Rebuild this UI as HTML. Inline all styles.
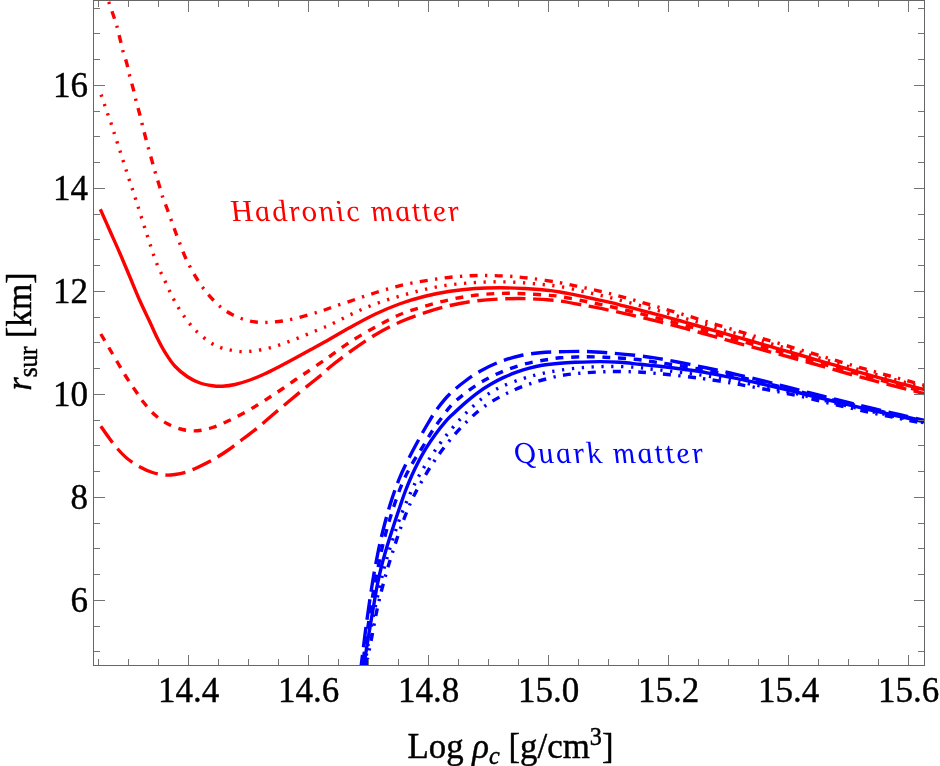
<!DOCTYPE html>
<html><head><meta charset="utf-8"><title>r_sur vs Log rho_c</title>
<style>html,body{margin:0;padding:0;background:#fff;}body{width:940px;height:766px;overflow:hidden;font-family:"Liberation Serif",serif;}svg{display:block;will-change:transform;}text{font-family:"Liberation Serif",serif;}</style>
</head><body>
<svg width="940" height="766" viewBox="0 0 940 766">
<rect x="0" y="0" width="940" height="766" fill="#ffffff"/>
<defs><clipPath id="clip"><rect x="93.5" y="0.0" width="831.0" height="665.5"/></clipPath></defs>
<g clip-path="url(#clip)" fill="none" stroke-linecap="butt" stroke-linejoin="round">
<path d="M104.60 -10.00 C105.29 -8.00 107.31 -2.17 108.75 2.00 C110.19 6.17 111.92 11.04 113.25 15.00 C114.58 18.96 115.62 21.79 116.75 25.75 C117.88 29.71 118.96 34.50 120.00 38.75 C121.04 43.00 121.88 47.17 123.00 51.25 C124.12 55.33 125.67 59.25 126.75 63.25 C127.83 67.25 128.46 71.12 129.50 75.25 C130.54 79.38 131.92 83.79 133.00 88.00 C134.08 92.21 134.96 96.42 136.00 100.50 C137.04 104.58 138.21 108.50 139.25 112.50 C140.29 116.50 141.21 120.38 142.25 124.50 C143.29 128.62 144.42 133.08 145.50 137.25 C146.58 141.42 147.62 145.42 148.75 149.50 C149.88 153.58 151.12 157.79 152.25 161.75 C153.38 165.71 154.29 169.17 155.50 173.25 C156.71 177.33 158.25 182.12 159.50 186.25 C160.75 190.38 161.67 194.08 163.00 198.00 C164.33 201.92 165.29 203.75 167.50 209.75 C169.71 215.75 173.33 226.21 176.25 234.00 C179.17 241.79 182.50 250.67 185.00 256.50 C187.50 262.33 189.17 265.12 191.25 269.00 C193.33 272.88 195.21 276.17 197.50 279.75 C199.79 283.33 202.42 287.17 205.00 290.50 C207.58 293.83 210.08 296.75 213.00 299.75 C215.92 302.75 219.25 306.00 222.50 308.50 C225.75 311.00 228.75 312.88 232.50 314.75 C236.25 316.62 240.83 318.50 245.00 319.75 C249.17 321.00 253.33 321.83 257.50 322.25 C261.67 322.67 265.83 322.46 270.00 322.25 C274.17 322.04 278.33 321.62 282.50 321.00 C286.67 320.38 290.62 319.54 295.00 318.50 C299.38 317.46 304.58 315.92 308.75 314.75 C312.92 313.58 316.46 312.62 320.00 311.50 C323.54 310.38 324.17 310.00 330.00 308.00 C335.83 306.00 346.67 302.29 355.00 299.50 C363.33 296.71 371.67 293.75 380.00 291.25 C388.33 288.75 396.67 286.38 405.00 284.50 C413.33 282.62 421.67 281.29 430.00 280.00 C438.33 278.71 446.67 277.50 455.00 276.75 C463.33 276.00 471.67 275.62 480.00 275.50 C488.33 275.38 496.67 275.54 505.00 276.00 C513.33 276.46 520.83 277.12 530.00 278.25 C539.17 279.38 550.83 281.15 560.00 282.75 C569.17 284.35 576.67 286.06 585.00 287.88 C593.33 289.70 601.67 291.55 610.00 293.65 C618.33 295.74 626.67 298.12 635.00 300.44 C643.33 302.77 651.67 305.18 660.00 307.61 C668.33 310.04 676.67 312.51 685.00 315.03 C693.33 317.54 701.67 320.18 710.00 322.71 C718.33 325.24 726.67 327.73 735.00 330.23 C743.33 332.74 751.67 335.24 760.00 337.74 C768.33 340.24 776.67 342.72 785.00 345.22 C793.33 347.71 801.67 350.20 810.00 352.70 C818.33 355.20 826.67 357.72 835.00 360.20 C843.33 362.68 851.67 365.17 860.00 367.58 C868.33 369.99 876.67 372.35 885.00 374.66 C893.33 376.97 901.67 379.23 910.00 381.47 C918.33 383.71 930.83 386.99 935.00 388.10" stroke="#ff0000" stroke-width="3.4" stroke-dasharray="2.3 7.4 8 7.4" stroke-dashoffset="12.5"/>
<path d="M101.10 94.60 C101.67 96.25 103.39 101.27 104.50 104.50 C105.61 107.73 106.67 110.92 107.75 114.00 C108.83 117.08 109.96 119.92 111.00 123.00 C112.04 126.08 113.00 129.38 114.00 132.50 C115.00 135.62 116.00 138.67 117.00 141.75 C118.00 144.83 119.00 147.92 120.00 151.00 C121.00 154.08 122.00 157.12 123.00 160.25 C124.00 163.38 125.00 166.62 126.00 169.75 C127.00 172.88 128.00 175.96 129.00 179.00 C130.00 182.04 131.00 184.96 132.00 188.00 C133.00 191.04 134.00 194.17 135.00 197.25 C136.00 200.33 136.00 200.25 138.00 206.50 C140.00 212.75 143.96 225.46 147.00 234.75 C150.04 244.04 153.25 254.54 156.25 262.25 C159.25 269.96 162.17 274.96 165.00 281.00 C167.83 287.04 170.33 293.00 173.25 298.50 C176.17 304.00 178.88 308.79 182.50 314.00 C186.12 319.21 190.42 325.04 195.00 329.75 C199.58 334.46 205.83 339.33 210.00 342.25 C214.17 345.17 216.88 346.00 220.00 347.25 C223.12 348.50 225.71 349.04 228.75 349.75 C231.79 350.46 235.12 351.21 238.25 351.50 C241.38 351.79 244.38 351.67 247.50 351.50 C250.62 351.33 253.75 351.00 257.00 350.50 C260.25 350.00 263.79 349.25 267.00 348.50 C270.21 347.75 273.17 346.96 276.25 346.00 C279.33 345.04 282.38 343.88 285.50 342.75 C288.62 341.62 291.83 340.46 295.00 339.25 C298.17 338.04 301.38 336.79 304.50 335.50 C307.62 334.21 310.75 332.75 313.75 331.50 C316.75 330.25 319.58 329.21 322.50 328.00 C325.42 326.79 326.88 326.33 331.25 324.25 C335.62 322.17 342.92 318.29 348.75 315.50 C354.58 312.71 360.21 310.00 366.25 307.50 C372.29 305.00 378.75 302.58 385.00 300.50 C391.25 298.42 397.50 296.75 403.75 295.00 C410.00 293.25 416.25 291.48 422.50 290.00 C428.75 288.52 434.79 287.17 441.25 286.10 C447.71 285.03 454.79 284.23 461.25 283.60 C467.71 282.97 473.54 282.60 480.00 282.30 C486.46 282.00 493.33 281.77 500.00 281.80 C506.67 281.83 513.33 282.08 520.00 282.50 C526.67 282.92 533.33 283.63 540.00 284.30 C546.67 284.97 552.50 285.25 560.00 286.50 C567.50 287.75 576.67 289.94 585.00 291.79 C593.33 293.63 601.67 295.50 610.00 297.57 C618.33 299.63 626.67 301.91 635.00 304.17 C643.33 306.42 651.67 308.76 660.00 311.11 C668.33 313.46 676.67 315.84 685.00 318.28 C693.33 320.72 701.67 323.28 710.00 325.75 C718.33 328.22 726.67 330.67 735.00 333.12 C743.33 335.58 751.67 338.03 760.00 340.48 C768.33 342.93 776.67 345.36 785.00 347.81 C793.33 350.25 801.67 352.71 810.00 355.18 C818.33 357.65 826.67 360.17 835.00 362.63 C843.33 365.09 851.67 367.56 860.00 369.94 C868.33 372.32 876.67 374.64 885.00 376.92 C893.33 379.20 901.67 381.43 910.00 383.64 C918.33 385.85 930.83 389.11 935.00 390.20" stroke="#ff0000" stroke-width="3.4" stroke-dasharray="2.3 7.55"/>
<path d="M100.30 209.20 C101.92 212.83 106.72 223.62 110.00 231.00 C113.28 238.38 116.67 245.79 120.00 253.50 C123.33 261.21 126.67 269.33 130.00 277.25 C133.33 285.17 136.67 293.50 140.00 301.00 C143.33 308.50 147.08 316.00 150.00 322.25 C152.92 328.50 155.00 333.50 157.50 338.50 C160.00 343.50 162.08 347.62 165.00 352.25 C167.92 356.88 171.25 362.17 175.00 366.25 C178.75 370.33 183.33 373.96 187.50 376.75 C191.67 379.54 195.83 381.50 200.00 383.00 C204.17 384.50 208.75 385.21 212.50 385.75 C216.25 386.29 218.75 386.46 222.50 386.25 C226.25 386.04 230.42 385.54 235.00 384.50 C239.58 383.46 245.00 381.79 250.00 380.00 C255.00 378.21 260.00 376.04 265.00 373.75 C270.00 371.46 275.00 368.83 280.00 366.25 C285.00 363.67 290.00 360.96 295.00 358.25 C300.00 355.54 305.00 352.75 310.00 350.00 C315.00 347.25 318.33 345.50 325.00 341.75 C331.67 338.00 341.67 332.08 350.00 327.50 C358.33 322.92 366.67 318.21 375.00 314.25 C383.33 310.29 391.67 306.75 400.00 303.75 C408.33 300.75 416.67 298.33 425.00 296.25 C433.33 294.17 441.67 292.54 450.00 291.25 C458.33 289.96 466.67 289.08 475.00 288.50 C483.33 287.92 491.67 287.75 500.00 287.75 C508.33 287.75 518.33 288.21 525.00 288.50 C531.67 288.79 535.83 289.15 540.00 289.50 C544.17 289.85 546.67 290.18 550.00 290.60 C553.33 291.02 556.20 291.37 560.00 292.00 C563.80 292.63 568.53 293.55 572.80 294.40 C577.07 295.25 581.33 296.20 585.60 297.10 C589.87 298.00 594.13 298.87 598.40 299.80 C602.67 300.73 606.95 301.68 611.20 302.70 C615.45 303.72 619.65 304.83 623.90 305.90 C628.15 306.97 632.43 308.00 636.70 309.10 C640.97 310.20 645.23 311.37 649.50 312.50 C653.77 313.63 657.05 314.48 662.30 315.90 C667.55 317.32 674.72 319.23 681.00 321.00 C687.28 322.77 693.50 324.63 700.00 326.50 C706.50 328.37 713.33 330.30 720.00 332.20 C726.67 334.10 733.33 336.00 740.00 337.90 C746.67 339.80 753.33 341.70 760.00 343.60 C766.67 345.50 773.33 347.40 780.00 349.30 C786.67 351.20 792.50 352.83 800.00 355.00 C807.50 357.17 816.67 359.87 825.00 362.30 C833.33 364.73 841.67 367.22 850.00 369.60 C858.33 371.98 866.67 374.32 875.00 376.60 C883.33 378.88 891.75 381.12 900.00 383.30 C908.25 385.48 918.67 388.18 924.50 389.70 C930.33 391.22 933.25 391.95 935.00 392.40" stroke="#ff0000" stroke-width="3.4"/>
<path d="M100.80 334.00 C102.75 337.29 108.47 346.92 112.50 353.75 C116.53 360.58 121.25 368.96 125.00 375.00 C128.75 381.04 131.88 385.42 135.00 390.00 C138.12 394.58 140.42 398.33 143.75 402.50 C147.08 406.67 151.04 411.46 155.00 415.00 C158.96 418.54 162.92 421.33 167.50 423.75 C172.08 426.17 177.50 428.33 182.50 429.50 C187.50 430.67 192.50 431.08 197.50 430.75 C202.50 430.42 207.50 429.08 212.50 427.50 C217.50 425.92 222.50 423.54 227.50 421.25 C232.50 418.96 237.50 416.46 242.50 413.75 C247.50 411.04 252.92 407.79 257.50 405.00 C262.08 402.21 265.83 399.71 270.00 397.00 C274.17 394.29 278.33 391.58 282.50 388.75 C286.67 385.92 290.83 382.83 295.00 380.00 C299.17 377.17 302.71 375.00 307.50 371.75 C312.29 368.50 320.00 363.08 323.75 360.50 C327.50 357.92 325.62 359.33 330.00 356.25 C334.38 353.17 342.50 346.83 350.00 342.00 C357.50 337.17 366.67 331.83 375.00 327.25 C383.33 322.67 391.67 318.01 400.00 314.50 C408.33 310.99 416.67 308.68 425.00 306.20 C433.33 303.72 441.67 301.42 450.00 299.60 C458.33 297.78 466.67 296.33 475.00 295.30 C483.33 294.27 491.67 293.67 500.00 293.40 C508.33 293.13 516.67 293.37 525.00 293.70 C533.33 294.03 544.17 294.93 550.00 295.40 C555.83 295.87 554.17 295.52 560.00 296.50 C565.83 297.48 576.67 299.62 585.00 301.29 C593.33 302.95 601.67 304.64 610.00 306.49 C618.33 308.34 626.67 310.35 635.00 312.38 C643.33 314.42 651.67 316.54 660.00 318.71 C668.33 320.87 676.67 323.09 685.00 325.38 C693.33 327.66 701.67 330.07 710.00 332.41 C718.33 334.75 726.67 337.10 735.00 339.43 C743.33 341.77 751.67 344.10 760.00 346.42 C768.33 348.74 776.67 351.02 785.00 353.35 C793.33 355.67 801.67 358.01 810.00 360.38 C818.33 362.75 826.67 365.20 835.00 367.58 C843.33 369.96 851.67 372.35 860.00 374.66 C868.33 376.97 876.67 379.22 885.00 381.44 C893.33 383.66 901.67 385.82 910.00 387.98 C918.33 390.14 930.83 393.33 935.00 394.40" stroke="#ff0000" stroke-width="3.4" stroke-dasharray="7.9 7.7"/>
<path d="M100.80 426.20 C102.12 428.08 105.97 433.74 108.75 437.50 C111.53 441.26 114.38 445.21 117.50 448.75 C120.62 452.29 123.75 455.71 127.50 458.75 C131.25 461.79 135.83 464.71 140.00 467.00 C144.17 469.29 148.33 471.17 152.50 472.50 C156.67 473.83 161.25 474.67 165.00 475.00 C168.75 475.33 171.46 475.00 175.00 474.50 C178.54 474.00 182.50 473.17 186.25 472.00 C190.00 470.83 193.12 469.50 197.50 467.50 C201.88 465.50 207.50 462.83 212.50 460.00 C217.50 457.17 222.50 453.96 227.50 450.50 C232.50 447.04 237.50 443.00 242.50 439.25 C247.50 435.50 252.50 432.04 257.50 428.00 C262.50 423.96 267.50 419.25 272.50 415.00 C277.50 410.75 282.50 406.67 287.50 402.50 C292.50 398.33 297.92 393.75 302.50 390.00 C307.08 386.25 311.25 383.00 315.00 380.00 C318.75 377.00 322.50 374.17 325.00 372.00 C327.50 369.83 325.83 370.38 330.00 367.00 C334.17 363.62 342.50 357.08 350.00 351.75 C357.50 346.42 366.67 339.96 375.00 335.00 C383.33 330.04 391.67 325.73 400.00 322.00 C408.33 318.27 416.67 315.35 425.00 312.60 C433.33 309.85 441.67 307.43 450.00 305.50 C458.33 303.57 466.67 302.08 475.00 301.00 C483.33 299.92 491.67 299.40 500.00 299.00 C508.33 298.60 516.67 298.43 525.00 298.60 C533.33 298.77 544.17 299.60 550.00 300.00 C555.83 300.40 554.17 300.09 560.00 301.00 C565.83 301.91 576.67 303.92 585.00 305.47 C593.33 307.03 601.67 308.61 610.00 310.35 C618.33 312.09 626.67 313.96 635.00 315.90 C643.33 317.83 651.67 319.85 660.00 321.95 C668.33 324.04 676.67 326.23 685.00 328.47 C693.33 330.70 701.67 333.07 710.00 335.37 C718.33 337.67 726.67 340.00 735.00 342.29 C743.33 344.59 751.67 346.88 760.00 349.14 C768.33 351.40 776.67 353.60 785.00 355.87 C793.33 358.13 801.67 360.42 810.00 362.76 C818.33 365.10 826.67 367.55 835.00 369.91 C843.33 372.27 851.67 374.64 860.00 376.92 C868.33 379.20 876.67 381.41 885.00 383.60 C893.33 385.79 901.67 387.92 910.00 390.06 C918.33 392.19 930.83 395.34 935.00 396.40" stroke="#ff0000" stroke-width="3.4" stroke-dasharray="20.3 7.7"/>
<path d="M359.80 675.00 C360.04 673.33 360.18 673.33 361.25 665.00 C362.32 656.67 364.38 638.75 366.25 625.00 C368.12 611.25 370.62 594.17 372.50 582.50 C374.38 570.83 375.83 563.33 377.50 555.00 C379.17 546.67 380.42 540.83 382.50 532.50 C384.58 524.17 387.29 513.75 390.00 505.00 C392.71 496.25 395.75 487.50 398.75 480.00 C401.75 472.50 404.79 466.50 408.00 460.00 C411.21 453.50 414.54 447.33 418.00 441.00 C421.46 434.67 425.50 427.42 428.75 422.00 C432.00 416.58 433.96 413.21 437.50 408.50 C441.04 403.79 445.42 398.29 450.00 393.75 C454.58 389.21 460.00 385.00 465.00 381.25 C470.00 377.50 474.17 374.50 480.00 371.25 C485.83 368.00 493.33 364.33 500.00 361.75 C506.67 359.17 513.33 357.25 520.00 355.75 C526.67 354.25 533.33 353.42 540.00 352.75 C546.67 352.08 552.50 351.96 560.00 351.75 C567.50 351.54 576.67 351.29 585.00 351.50 C593.33 351.71 601.67 352.37 610.00 353.00 C618.33 353.63 627.83 354.53 635.00 355.30 C642.17 356.07 647.17 356.72 653.00 357.60 C658.83 358.48 663.83 359.45 670.00 360.59 C676.17 361.73 683.83 363.21 690.00 364.44 C696.17 365.68 700.33 366.58 707.00 368.00 C713.67 369.42 722.83 371.36 730.00 372.97 C737.17 374.58 742.50 375.83 750.00 377.64 C757.50 379.45 766.67 381.72 775.00 383.83 C783.33 385.94 791.67 388.16 800.00 390.30 C808.33 392.44 816.67 394.60 825.00 396.70 C833.33 398.80 841.67 400.86 850.00 402.90 C858.33 404.94 866.67 406.99 875.00 408.96 C883.33 410.94 891.75 412.83 900.00 414.73 C908.25 416.63 918.67 419.04 924.50 420.39 C930.33 421.73 933.25 422.40 935.00 422.80" stroke="#0000ff" stroke-width="3.4" stroke-dasharray="20.3 7.7"/>
<path d="M361.00 675.00 C361.25 673.33 361.58 671.33 362.50 665.00 C363.42 658.67 364.92 647.83 366.50 637.00 C368.08 626.17 370.08 611.50 372.00 600.00 C373.92 588.50 376.00 578.00 378.00 568.00 C380.00 558.00 381.67 549.33 384.00 540.00 C386.33 530.67 389.00 521.33 392.00 512.00 C395.00 502.67 398.67 492.00 402.00 484.00 C405.33 476.00 408.67 470.00 412.00 464.00 C415.33 458.00 418.83 453.17 422.00 448.00 C425.17 442.83 428.00 437.67 431.00 433.00 C434.00 428.33 436.58 424.65 440.00 420.00 C443.42 415.35 447.67 409.28 451.50 405.10 C455.33 400.92 458.97 398.13 463.00 394.90 C467.03 391.67 471.35 388.57 475.70 385.70 C480.05 382.83 484.52 380.10 489.10 377.70 C493.68 375.30 498.40 373.27 503.20 371.30 C508.00 369.33 512.90 367.45 517.90 365.90 C522.90 364.35 528.10 363.08 533.20 362.00 C538.30 360.92 544.03 360.10 548.50 359.40 C552.97 358.70 553.92 358.23 560.00 357.80 C566.08 357.37 576.67 356.85 585.00 356.80 C593.33 356.75 601.67 357.10 610.00 357.50 C618.33 357.90 627.83 358.48 635.00 359.20 C642.17 359.92 647.17 360.96 653.00 361.80 C658.83 362.64 663.83 363.29 670.00 364.22 C676.17 365.16 683.83 366.38 690.00 367.41 C696.17 368.44 700.33 369.12 707.00 370.40 C713.67 371.68 722.83 373.58 730.00 375.10 C737.17 376.63 742.50 377.81 750.00 379.54 C757.50 381.27 766.67 383.45 775.00 385.48 C783.33 387.51 791.67 389.61 800.00 391.70 C808.33 393.79 816.67 395.93 825.00 398.00 C833.33 400.07 841.67 402.10 850.00 404.10 C858.33 406.10 866.67 408.10 875.00 410.02 C883.33 411.94 891.75 413.78 900.00 415.64 C908.25 417.49 918.67 419.84 924.50 421.15 C930.33 422.46 933.25 423.11 935.00 423.50" stroke="#0000ff" stroke-width="3.4" stroke-dasharray="7.9 7.7"/>
<path d="M362.30 675.00 C362.58 673.33 363.33 669.17 364.00 665.00 C364.67 660.83 365.52 655.00 366.30 650.00 C367.08 645.00 367.88 640.00 368.70 635.00 C369.52 630.00 370.28 625.42 371.20 620.00 C372.12 614.58 373.18 608.33 374.20 602.50 C375.22 596.67 376.03 591.25 377.30 585.00 C378.57 578.75 380.10 571.67 381.80 565.00 C383.50 558.33 385.55 551.50 387.50 545.00 C389.45 538.50 391.42 532.42 393.50 526.00 C395.58 519.58 398.05 512.25 400.00 506.50 C401.95 500.75 403.23 496.67 405.20 491.50 C407.17 486.33 409.62 480.42 411.80 475.50 C413.98 470.58 415.92 466.57 418.30 462.00 C420.68 457.43 423.27 452.70 426.10 448.10 C428.93 443.50 432.03 438.87 435.30 434.40 C438.57 429.93 442.78 424.67 445.70 421.30 C448.62 417.93 449.50 417.32 452.80 414.20 C456.10 411.08 461.25 406.25 465.50 402.60 C469.75 398.95 474.03 395.40 478.30 392.30 C482.57 389.20 486.85 386.48 491.10 384.00 C495.35 381.52 499.55 379.37 503.80 377.40 C508.05 375.43 512.33 373.75 516.60 372.20 C520.87 370.65 525.15 369.25 529.40 368.10 C533.65 366.95 537.00 366.12 542.10 365.30 C547.20 364.48 554.52 363.70 560.00 363.20 C565.48 362.70 568.33 362.57 575.00 362.30 C581.67 362.03 592.50 361.60 600.00 361.60 C607.50 361.60 613.33 361.85 620.00 362.30 C626.67 362.75 633.33 363.63 640.00 364.30 C646.67 364.97 652.50 365.43 660.00 366.30 C667.50 367.17 677.17 368.42 685.00 369.50 C692.83 370.58 698.67 371.35 707.00 372.80 C715.33 374.25 726.17 376.40 735.00 378.20 C743.83 380.00 751.67 381.73 760.00 383.60 C768.33 385.47 778.33 387.83 785.00 389.40 C791.67 390.97 793.33 391.37 800.00 393.00 C806.67 394.63 816.67 397.17 825.00 399.20 C833.33 401.23 841.67 403.23 850.00 405.20 C858.33 407.17 866.67 409.12 875.00 411.00 C883.33 412.88 891.75 414.68 900.00 416.50 C908.25 418.32 918.67 420.62 924.50 421.90 C930.33 423.18 933.25 423.82 935.00 424.20" stroke="#0000ff" stroke-width="3.4"/>
<path d="M363.30 675.00 C363.58 673.33 364.22 670.00 365.00 665.00 C365.78 660.00 366.67 652.83 368.00 645.00 C369.33 637.17 371.17 627.17 373.00 618.00 C374.83 608.83 377.00 598.83 379.00 590.00 C381.00 581.17 382.83 573.00 385.00 565.00 C387.17 557.00 389.50 549.83 392.00 542.00 C394.50 534.17 397.00 526.00 400.00 518.00 C403.00 510.00 406.67 501.33 410.00 494.00 C413.33 486.67 416.33 480.50 420.00 474.00 C423.67 467.50 427.83 461.17 432.00 455.00 C436.17 448.83 440.12 443.17 445.00 437.00 C449.88 430.83 456.25 423.42 461.25 418.00 C466.25 412.58 470.62 408.42 475.00 404.50 C479.38 400.58 482.92 397.54 487.50 394.50 C492.08 391.46 496.67 388.88 502.50 386.25 C508.33 383.62 516.25 380.79 522.50 378.75 C528.75 376.71 533.75 375.43 540.00 374.00 C546.25 372.57 552.50 371.30 560.00 370.20 C567.50 369.10 576.67 368.02 585.00 367.40 C593.33 366.78 601.67 366.53 610.00 366.50 C618.33 366.47 627.83 366.73 635.00 367.20 C642.17 367.67 647.17 368.65 653.00 369.30 C658.83 369.95 663.83 370.40 670.00 371.12 C676.17 371.84 683.83 372.79 690.00 373.61 C696.17 374.42 700.33 374.92 707.00 376.00 C713.67 377.08 722.83 378.74 730.00 380.06 C737.17 381.38 742.50 382.43 750.00 383.94 C757.50 385.45 766.67 387.35 775.00 389.13 C783.33 390.91 791.67 392.67 800.00 394.60 C808.33 396.53 816.67 398.70 825.00 400.70 C833.33 402.70 841.67 404.68 850.00 406.60 C858.33 408.52 866.67 410.40 875.00 412.22 C883.33 414.05 891.75 415.79 900.00 417.55 C908.25 419.31 918.67 421.53 924.50 422.77 C930.33 424.02 933.25 424.63 935.00 425.00" stroke="#0000ff" stroke-width="3.4" stroke-dasharray="2.3 7.55"/>
<path d="M364.50 675.00 C364.79 673.33 365.12 670.83 366.25 665.00 C367.38 659.17 369.38 649.58 371.25 640.00 C373.12 630.42 375.21 617.92 377.50 607.50 C379.79 597.08 382.50 586.67 385.00 577.50 C387.50 568.33 389.79 561.04 392.50 552.50 C395.21 543.96 398.12 534.79 401.25 526.25 C404.38 517.71 407.71 508.96 411.25 501.25 C414.79 493.54 418.54 486.88 422.50 480.00 C426.46 473.12 430.42 466.67 435.00 460.00 C439.58 453.33 444.58 446.50 450.00 440.00 C455.42 433.50 461.67 426.67 467.50 421.00 C473.33 415.33 478.33 410.67 485.00 406.00 C491.67 401.33 499.58 396.83 507.50 393.00 C515.42 389.17 523.75 385.87 532.50 383.00 C541.25 380.13 551.25 377.50 560.00 375.80 C568.75 374.10 576.67 373.50 585.00 372.80 C593.33 372.10 601.67 371.77 610.00 371.60 C618.33 371.43 627.83 371.55 635.00 371.80 C642.17 372.05 647.17 372.61 653.00 373.10 C658.83 373.59 663.83 374.08 670.00 374.73 C676.17 375.38 683.83 376.25 690.00 377.00 C696.17 377.74 700.33 378.22 707.00 379.20 C713.67 380.18 722.83 381.68 730.00 382.89 C737.17 384.09 742.50 385.06 750.00 386.44 C757.50 387.82 766.67 389.55 775.00 391.18 C783.33 392.81 791.67 394.36 800.00 396.20 C808.33 398.04 816.67 400.23 825.00 402.20 C833.33 404.17 841.67 406.13 850.00 408.00 C858.33 409.87 866.67 411.68 875.00 413.45 C883.33 415.21 891.75 416.89 900.00 418.59 C908.25 420.29 918.67 422.45 924.50 423.65 C930.33 424.85 933.25 425.44 935.00 425.80" stroke="#0000ff" stroke-width="3.4" stroke-dasharray="2.3 7.4 8 7.4"/>
</g>
<g stroke="#747474" stroke-width="1" fill="none" shape-rendering="crispEdges">
<line x1="98.5" y1="665.5" x2="98.5" y2="659.0"/>
<line x1="98.5" y1="0.5" x2="98.5" y2="7.0"/>
<line x1="128.5" y1="665.5" x2="128.5" y2="659.0"/>
<line x1="128.5" y1="0.5" x2="128.5" y2="7.0"/>
<line x1="158.5" y1="665.5" x2="158.5" y2="659.0"/>
<line x1="158.5" y1="0.5" x2="158.5" y2="7.0"/>
<line x1="188.5" y1="665.5" x2="188.5" y2="654.5"/>
<line x1="188.5" y1="0.5" x2="188.5" y2="11.5"/>
<line x1="218.5" y1="665.5" x2="218.5" y2="659.0"/>
<line x1="218.5" y1="0.5" x2="218.5" y2="7.0"/>
<line x1="248.5" y1="665.5" x2="248.5" y2="659.0"/>
<line x1="248.5" y1="0.5" x2="248.5" y2="7.0"/>
<line x1="278.5" y1="665.5" x2="278.5" y2="659.0"/>
<line x1="278.5" y1="0.5" x2="278.5" y2="7.0"/>
<line x1="308.5" y1="665.5" x2="308.5" y2="654.5"/>
<line x1="308.5" y1="0.5" x2="308.5" y2="11.5"/>
<line x1="338.5" y1="665.5" x2="338.5" y2="659.0"/>
<line x1="338.5" y1="0.5" x2="338.5" y2="7.0"/>
<line x1="368.5" y1="665.5" x2="368.5" y2="659.0"/>
<line x1="368.5" y1="0.5" x2="368.5" y2="7.0"/>
<line x1="398.5" y1="665.5" x2="398.5" y2="659.0"/>
<line x1="398.5" y1="0.5" x2="398.5" y2="7.0"/>
<line x1="428.5" y1="665.5" x2="428.5" y2="654.5"/>
<line x1="428.5" y1="0.5" x2="428.5" y2="11.5"/>
<line x1="458.5" y1="665.5" x2="458.5" y2="659.0"/>
<line x1="458.5" y1="0.5" x2="458.5" y2="7.0"/>
<line x1="488.5" y1="665.5" x2="488.5" y2="659.0"/>
<line x1="488.5" y1="0.5" x2="488.5" y2="7.0"/>
<line x1="518.5" y1="665.5" x2="518.5" y2="659.0"/>
<line x1="518.5" y1="0.5" x2="518.5" y2="7.0"/>
<line x1="548.5" y1="665.5" x2="548.5" y2="654.5"/>
<line x1="548.5" y1="0.5" x2="548.5" y2="11.5"/>
<line x1="578.5" y1="665.5" x2="578.5" y2="659.0"/>
<line x1="578.5" y1="0.5" x2="578.5" y2="7.0"/>
<line x1="608.5" y1="665.5" x2="608.5" y2="659.0"/>
<line x1="608.5" y1="0.5" x2="608.5" y2="7.0"/>
<line x1="638.5" y1="665.5" x2="638.5" y2="659.0"/>
<line x1="638.5" y1="0.5" x2="638.5" y2="7.0"/>
<line x1="668.5" y1="665.5" x2="668.5" y2="654.5"/>
<line x1="668.5" y1="0.5" x2="668.5" y2="11.5"/>
<line x1="698.5" y1="665.5" x2="698.5" y2="659.0"/>
<line x1="698.5" y1="0.5" x2="698.5" y2="7.0"/>
<line x1="728.5" y1="665.5" x2="728.5" y2="659.0"/>
<line x1="728.5" y1="0.5" x2="728.5" y2="7.0"/>
<line x1="758.5" y1="665.5" x2="758.5" y2="659.0"/>
<line x1="758.5" y1="0.5" x2="758.5" y2="7.0"/>
<line x1="788.5" y1="665.5" x2="788.5" y2="654.5"/>
<line x1="788.5" y1="0.5" x2="788.5" y2="11.5"/>
<line x1="818.5" y1="665.5" x2="818.5" y2="659.0"/>
<line x1="818.5" y1="0.5" x2="818.5" y2="7.0"/>
<line x1="848.5" y1="665.5" x2="848.5" y2="659.0"/>
<line x1="848.5" y1="0.5" x2="848.5" y2="7.0"/>
<line x1="878.5" y1="665.5" x2="878.5" y2="659.0"/>
<line x1="878.5" y1="0.5" x2="878.5" y2="7.0"/>
<line x1="908.5" y1="665.5" x2="908.5" y2="654.5"/>
<line x1="908.5" y1="0.5" x2="908.5" y2="11.5"/>
<line x1="93.5" y1="651.5" x2="100.0" y2="651.5"/>
<line x1="924.5" y1="651.5" x2="918.0" y2="651.5"/>
<line x1="93.5" y1="626.5" x2="100.0" y2="626.5"/>
<line x1="924.5" y1="626.5" x2="918.0" y2="626.5"/>
<line x1="93.5" y1="600.5" x2="104.5" y2="600.5"/>
<line x1="924.5" y1="600.5" x2="913.5" y2="600.5"/>
<line x1="93.5" y1="574.5" x2="100.0" y2="574.5"/>
<line x1="924.5" y1="574.5" x2="918.0" y2="574.5"/>
<line x1="93.5" y1="548.5" x2="100.0" y2="548.5"/>
<line x1="924.5" y1="548.5" x2="918.0" y2="548.5"/>
<line x1="93.5" y1="523.5" x2="100.0" y2="523.5"/>
<line x1="924.5" y1="523.5" x2="918.0" y2="523.5"/>
<line x1="93.5" y1="497.5" x2="104.5" y2="497.5"/>
<line x1="924.5" y1="497.5" x2="913.5" y2="497.5"/>
<line x1="93.5" y1="471.5" x2="100.0" y2="471.5"/>
<line x1="924.5" y1="471.5" x2="918.0" y2="471.5"/>
<line x1="93.5" y1="445.5" x2="100.0" y2="445.5"/>
<line x1="924.5" y1="445.5" x2="918.0" y2="445.5"/>
<line x1="93.5" y1="420.5" x2="100.0" y2="420.5"/>
<line x1="924.5" y1="420.5" x2="918.0" y2="420.5"/>
<line x1="93.5" y1="394.5" x2="104.5" y2="394.5"/>
<line x1="924.5" y1="394.5" x2="913.5" y2="394.5"/>
<line x1="93.5" y1="368.5" x2="100.0" y2="368.5"/>
<line x1="924.5" y1="368.5" x2="918.0" y2="368.5"/>
<line x1="93.5" y1="342.5" x2="100.0" y2="342.5"/>
<line x1="924.5" y1="342.5" x2="918.0" y2="342.5"/>
<line x1="93.5" y1="317.5" x2="100.0" y2="317.5"/>
<line x1="924.5" y1="317.5" x2="918.0" y2="317.5"/>
<line x1="93.5" y1="291.5" x2="104.5" y2="291.5"/>
<line x1="924.5" y1="291.5" x2="913.5" y2="291.5"/>
<line x1="93.5" y1="265.5" x2="100.0" y2="265.5"/>
<line x1="924.5" y1="265.5" x2="918.0" y2="265.5"/>
<line x1="93.5" y1="239.5" x2="100.0" y2="239.5"/>
<line x1="924.5" y1="239.5" x2="918.0" y2="239.5"/>
<line x1="93.5" y1="214.5" x2="100.0" y2="214.5"/>
<line x1="924.5" y1="214.5" x2="918.0" y2="214.5"/>
<line x1="93.5" y1="188.5" x2="104.5" y2="188.5"/>
<line x1="924.5" y1="188.5" x2="913.5" y2="188.5"/>
<line x1="93.5" y1="162.5" x2="100.0" y2="162.5"/>
<line x1="924.5" y1="162.5" x2="918.0" y2="162.5"/>
<line x1="93.5" y1="136.5" x2="100.0" y2="136.5"/>
<line x1="924.5" y1="136.5" x2="918.0" y2="136.5"/>
<line x1="93.5" y1="111.5" x2="100.0" y2="111.5"/>
<line x1="924.5" y1="111.5" x2="918.0" y2="111.5"/>
<line x1="93.5" y1="85.5" x2="104.5" y2="85.5"/>
<line x1="924.5" y1="85.5" x2="913.5" y2="85.5"/>
<line x1="93.5" y1="59.5" x2="100.0" y2="59.5"/>
<line x1="924.5" y1="59.5" x2="918.0" y2="59.5"/>
<line x1="93.5" y1="33.5" x2="100.0" y2="33.5"/>
<line x1="924.5" y1="33.5" x2="918.0" y2="33.5"/>
<line x1="93.5" y1="8.5" x2="100.0" y2="8.5"/>
<line x1="924.5" y1="8.5" x2="918.0" y2="8.5"/>
</g>
<rect x="93.5" y="0.5" width="831.0" height="665.0" fill="none" stroke="#666666" stroke-width="1" shape-rendering="crispEdges"/>
<g fill="#000" stroke="#000" stroke-width="0.4" font-size="35.0">
<text x="88.0" y="611.6" text-anchor="end">6</text>
<text x="88.0" y="508.6" text-anchor="end">8</text>
<text x="88.0" y="405.6" text-anchor="end">10</text>
<text x="88.0" y="302.6" text-anchor="end">12</text>
<text x="88.0" y="199.6" text-anchor="end">14</text>
<text x="88.0" y="96.6" text-anchor="end">16</text>
<text x="188.5" y="701.5" text-anchor="middle">14.4</text>
<text x="308.5" y="701.5" text-anchor="middle">14.6</text>
<text x="428.5" y="701.5" text-anchor="middle">14.8</text>
<text x="548.5" y="701.5" text-anchor="middle">15.0</text>
<text x="668.5" y="701.5" text-anchor="middle">15.2</text>
<text x="788.5" y="701.5" text-anchor="middle">15.4</text>
<text x="908.5" y="701.5" text-anchor="middle">15.6</text>
</g>
<g fill="#000" stroke="#000" stroke-width="0.45"><text x="407.5" y="758" font-size="36" textLength="206" lengthAdjust="spacingAndGlyphs">Log <tspan font-style="italic">ρ</tspan><tspan font-style="italic" font-size="25" dy="6">c</tspan><tspan dy="-6"> [g/cm</tspan><tspan font-size="25" dy="-13">3</tspan><tspan dy="13">]</tspan></text></g>
<g fill="#000" stroke="#000" stroke-width="0.45" transform="translate(31,390.5) rotate(-90)"><text x="0" y="0" font-size="36" textLength="118" lengthAdjust="spacingAndGlyphs"><tspan font-style="italic">r</tspan><tspan font-size="27" dy="6">sur</tspan><tspan dy="-6"> [km]</tspan></text></g>
<g font-size="30.5" font-style="italic"><text transform="translate(233.2,220.6) skewX(16.3)" x="0" y="0" fill="#ff0000" textLength="229" lengthAdjust="spacing">Hadronic matter</text><text transform="translate(516.2,462.8) skewX(16.3)" x="0" y="0" fill="#0000ff" textLength="190" lengthAdjust="spacing">Quark matter</text></g>
</svg>
</body></html>
